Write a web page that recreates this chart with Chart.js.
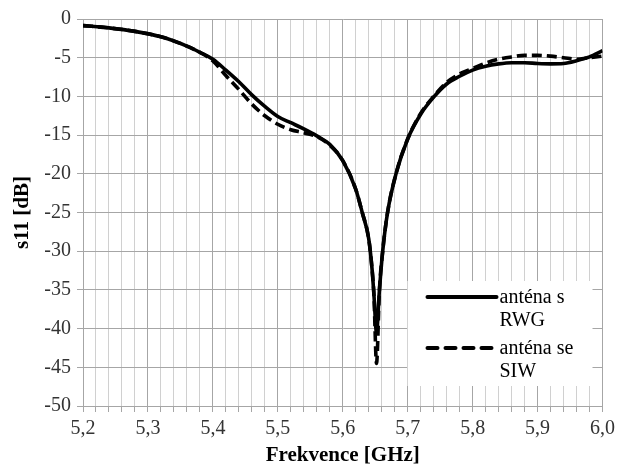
<!DOCTYPE html>
<html>
<head>
<meta charset="utf-8">
<script src="https://cdn.jsdelivr.net/npm/chart.js@4/dist/chart.umd.min.js"></script>
<style>
html,body{margin:0;padding:0;background:#fff;}
#wrap{width:620px;height:468px;position:relative;}
</style>
</head>
<body>
<div id="wrap"><canvas id="c" width="620" height="468"></canvas></div>
<script>
const freq = [5.20, 5.24, 5.28, 5.32, 5.36, 5.38, 5.40, 5.42, 5.44, 5.46, 5.48, 5.50, 5.52, 5.54, 5.56, 5.58, 5.60, 5.62, 5.63, 5.64, 5.645, 5.648, 5.652, 5.6565, 5.6615, 5.669, 5.682, 5.70, 5.72, 5.74, 5.76, 5.78, 5.80, 5.82, 5.84, 5.86, 5.88, 5.90, 5.92, 5.94, 5.96, 5.98, 6.00];
const rwg = [-0.85, -1.15, -1.6, -2.3, -3.5, -4.3, -5.2, -6.6, -8.1, -9.8, -11.3, -12.6, -13.4, -14.2, -15.1, -16.2, -18.3, -22.0, -25.0, -28.4, -32.2, -35.6, -40.5, -35, -30, -25, -20, -15.5, -12.3, -10.1, -8.4, -7.4, -6.6, -6.1, -5.8, -5.65, -5.65, -5.75, -5.8, -5.75, -5.4, -4.9, -4.1];
const siw = [-0.85, -1.15, -1.6, -2.3, -3.5, -4.3, -5.4, -7.3, -9.1, -11.0, -12.5, -13.6, -14.3, -14.7, -15.2, -16.3, -18.3, -22.0, -25.0, -28.4, -32.2, -35.6, -44.5, -35, -30, -25, -20, -15.5, -12.2, -10.0, -8.2, -7.1, -6.4, -5.7, -5.2, -4.9, -4.7, -4.7, -4.8, -5.0, -5.2, -5.0, -4.8];
const seriesNames = [["anténa s", "RWG"], ["anténa se", "SIW"]];
const xTitle = "Frekvence [GHz]";
const yTitle = "s11 [dB]";

const FONT = "'Liberation Serif', 'Times New Roman', serif";

function pts(ys){ return freq.map((f,i)=>({x:f,y:ys[i]})); }
function isMajorX(v){ const r = v*10; return Math.abs(r-Math.round(r)) < 1e-6; }

const legendPlugin = {
  id: 'boxLegend',
  afterDatasetsDraw(chart){
    const ctx = chart.ctx, a = chart.chartArea;
    const bx = a.right - 195, by = a.bottom - 125, bw = 185, bh = 105;
    ctx.save();
    ctx.fillStyle = '#fff';
    ctx.fillRect(bx, by, bw, bh);
    ctx.strokeStyle = '#000';
    ctx.lineWidth = 4;
    ctx.lineCap = 'round';
    ctx.setLineDash([]);
    ctx.beginPath(); ctx.moveTo(bx+20, by+16); ctx.lineTo(bx+89, by+16); ctx.stroke();
    ctx.setLineDash([10,8]);
    ctx.beginPath(); ctx.moveTo(bx+20, by+67); ctx.lineTo(bx+92, by+67); ctx.stroke();
    ctx.setLineDash([]);
    ctx.fillStyle = '#000';
    ctx.font = "20px " + FONT;
    ctx.textBaseline = 'alphabetic';
    ctx.textAlign = 'left';
    ctx.fillText(seriesNames[0][0], bx+92, by+22);
    ctx.fillText(seriesNames[0][1], bx+92, by+45);
    ctx.fillText(seriesNames[1][0], bx+92, by+73);
    ctx.fillText(seriesNames[1][1], bx+92, by+96);
    ctx.restore();
  }
};

new Chart(document.getElementById('c'), {
  type: 'line',
  data: {
    datasets: [
      { label: seriesNames[0].join(' '), data: pts(rwg), borderColor: '#000', borderWidth: 3.6,
        pointRadius: 0, cubicInterpolationMode: 'monotone', fill: false },
      { label: seriesNames[1].join(' '), data: pts(siw), borderColor: '#000', borderWidth: 3.6,
        borderDash: [10,5], pointRadius: 0, cubicInterpolationMode: 'monotone', fill: false }
    ]
  },
  options: {
    responsive: false,
    animation: false,
    devicePixelRatio: 1,
    layout: { padding: { top: 19, right: 17, left: 0, bottom: 0 } },
    plugins: { legend: { display: false }, tooltip: { enabled: false } },
    scales: {
      x: {
        type: 'linear', min: 5.2, max: 6.0,
        afterBuildTicks(scale){
          const t = [];
          for (let i = 0; i <= 40; i++) t.push({ value: Math.round((5.2 + i*0.02)*1000)/1000 });
          scale.ticks = t;
        },
        afterFit(scale){ scale.height = 62; },
        ticks: {
          autoSkip: false, maxRotation: 0, padding: 5,
          color: '#333', font: { family: FONT, size: 20 },
          callback(v){ return isMajorX(v) ? v.toFixed(1).replace('.', ',') : ''; }
        },
        grid: {
          color(ctx){ return ctx.tick && isMajorX(ctx.tick.value) ? '#a6a6a6' : '#d0d0d0'; },
          tickColor: '#a6a6a6', tickLength: 6, lineWidth: 1
        },
        border: { color: '#a6a6a6', width: 1 },
        title: { display: true, text: xTitle, color: '#000', font: { family: FONT, size: 21, weight: 'bold' }, padding: { top: 0, bottom: 0 } }
      },
      y: {
        min: -50, max: 0,
        afterFit(scale){ scale.width = 83; },
        ticks: { stepSize: 5, padding: 6, color: '#333', font: { family: FONT, size: 20 } },
        grid: { color: '#a6a6a6', tickColor: '#a6a6a6', tickLength: 6, lineWidth: 1 },
        border: { color: '#a6a6a6', width: 1 },
        title: { display: true, text: yTitle, color: '#000', font: { family: FONT, size: 21, weight: 'bold' }, padding: { top: 10, bottom: 0 } }
      }
    }
  },
  plugins: [legendPlugin]
});
</script>
</body>
</html>
